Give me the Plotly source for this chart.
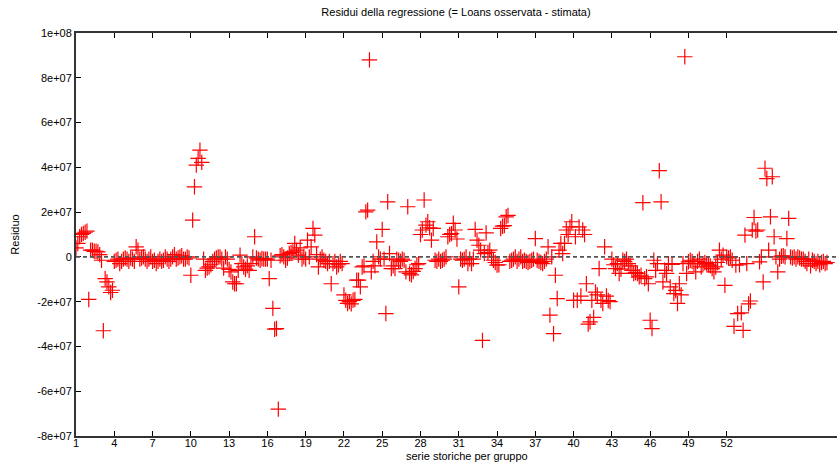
import plotly.graph_objects as go

# Panel: 59 groups x 7 observations; residuals in millions
T = 7
group_tick_labels = ["1", "4", "7", "10", "13", "16", "19", "22", "25", "28",
                     "31", "34", "37", "40", "43", "46", "49", "52"]
y_tick_vals = [1e8, 8e7, 6e7, 4e7, 2e7, 0, -2e7, -4e7, -6e7, -8e7]
y_tick_text = ["1e+08", "8e+07", "6e+07", "4e+07", "2e+07", "0",
               "-2e+07", "-4e+07", "-6e+07", "-8e+07"]

resid_g01_10 = [
    4.0, 6.0, 9.0, 10.0, 10.5, 11.0, 11.5,
    -19.0, 3.0, 3.0, 2.5, 2.5, 2.2, 1.0,
    -1.5, -33.0, -9.7, -11.2, -13.4, -15.9, -14.9,
    -2.0, -1.5, -1.0, -3.0, -2.0, -1.0, -0.5,
    -1.0, -2.0, -0.5, -1.0, -2.0, 4.5, 3.0,
    -1.0, -0.5, 0.0, -1.0, -2.0, -1.0, 0.0,
    -2.0, -1.5, -3.0, -2.0, -1.0, -2.0, -1.5,
    0.0, -1.0, -2.0, -1.0, 0.0, 1.0, -1.0,
    -0.5, 0.0, 0.5, -1.0, -1.0, 0.0, -0.5,
    -8.2, 16.4, 31.3, 41.0, 44.0, 47.7, 42.2,
]
resid_g11_20 = [
    -1.0, -6.0, -5.0, -4.5, -3.5, -2.0, -1.0,
    -0.5, 0.0, 0.0, -1.0, -5.0, 0.0, -1.0,
    -5.6, -6.7, -11.2, -12.0, -12.0, -6.0, 0.8,
    -3.0, -4.5, -5.5, -4.0, -6.0, -3.0, 0.0,
    9.0, -0.5, -1.0, -1.5, -0.7, -1.0, -1.0,
    -1.0, -9.7, -1.5, -23.0, -32.3, -32.0, -68.0,
    0.5, 1.0, 0.0, -1.5, -0.5, 1.5, 2.0,
    2.2, 6.0, 3.0, 0.8, 4.0, -1.0, 0.0,
    -1.0, 7.5, 0.0, 4.5, 12.7, 9.7, 1.0,
    -4.5, -1.0, 0.0, -1.5, -2.0, -3.0, -2.0,
]
resid_g21_30 = [
    -12.0, -3.0, -2.0, -4.5, -3.5, -2.0, -3.0,
    -17.0, -19.4, -20.8, -20.0, -21.0, -19.4, -19.0,
    -10.4, -10.4, -13.4, -4.5, -4.0, 20.1, 20.9,
    88.0, -6.7, -2.0, -4.0, 6.7, 0.0, -1.0,
    12.3, -1.0, -25.3, 24.6, 1.5, -5.2, -4.0,
    -5.2, -1.0, -1.5, -2.0, -1.0, -1.5, -6.7,
    22.4, -7.4, -8.0, -6.5, -5.2, -3.5, -3.0,
    10.0, 12.0, 25.4, 14.2, 15.7, 13.0, 7.5,
    12.7, -1.5, -2.0, -1.0, -2.0, -1.5, -1.0,
    0.0, 9.0, 10.0, 10.4, 15.0, 12.0, 8.0,
]
resid_g31_40 = [
    -13.4, -1.0, -1.5, -1.0, 0.0, -3.0, -1.0,
    -3.0, -1.0, 12.3, 7.5, 5.2, 3.0, -37.3,
    1.5, 10.7, 2.0, 3.0, 0.0, -1.5, -2.5,
    -3.7, -3.5, 12.7, 13.7, 14.0, 17.9, 18.5,
    -2.0, -1.5, -1.0, 0.0, -2.0, -1.0, 0.0,
    -2.0, -1.5, -2.0, -2.5, -2.0, -1.5, -1.0,
    8.2, -1.5, -2.0, -2.5, -3.0, -2.0, -1.0,
    4.5, -26.0, 0.0, -34.3, -8.2, -18.6, 3.0,
    6.0, 1.5, 6.0, 12.0, 10.0, 13.4, 15.7,
    -19.4, 9.0, -19.4, 13.4, -17.5, 12.0, 10.0,
]
resid_g41_50 = [
    -12.0, -30.0, -29.0, -19.4, -27.0, -15.7, -17.0,
    -5.2, -19.4, -20.8, 4.5, -17.5, -19.5, -20.0,
    -1.0, -3.5, -5.2, -3.0, -7.4, -5.5, -1.5,
    -2.0, -1.0, -3.0, -4.0, -6.0, -7.4, -7.0,
    -7.4, -8.9, -8.2, 24.2, -9.7, -8.9, -12.0,
    -28.3, -32.0, -1.5, -6.0, -3.0, 38.5, 24.6,
    -11.2, -6.0, -7.4, -3.0, -13.4, -3.3, -16.4,
    -15.0, -20.8, -12.0, -17.0, -3.0, 89.4, -7.4,
    -2.2, -1.5, -2.0, -3.0, -6.7, -2.0, -1.0,
    -4.5, -3.0, -2.5, -3.0, -3.5, -4.0, -5.2,
]
resid_g51_59 = [
    -6.7, -4.5, -2.5, 3.0, -1.0, 0.8, -12.7,
    0.0, -0.5, 0.0, -1.5, -31.0, -3.7, -25.3,
    -3.5, -25.0, -32.8, 9.7, -3.0, -21.0, -19.7,
    12.0, 17.6, 11.5, 12.0, -2.2, 0.0, -11.2,
    39.6, 35.0, 3.0, 17.9, 35.8, 9.0, 0.0,
    -6.7, -1.0, 0.3, 0.5, 0.0, 8.2, 17.2,
    0.0, -0.5, 0.0, -1.0, 0.0, -0.5, -1.0,
    -1.0, -2.0, -3.0, -1.0, -4.0, -1.5, -2.0,
    -3.0, -2.0, -3.5, -2.5, -2.0, -3.0, -2.5,
]

resid_mln = resid_g01_10 + resid_g11_20 + resid_g21_30 + resid_g31_40 + resid_g41_50 + resid_g51_59
resid = [v * 1e6 for v in resid_mln]
obs = list(range(1, len(resid) + 1))
tick_vals_x = [(int(g) - 1) * T + 1 for g in group_tick_labels]

FONT = "Liberation Sans, Arial, Helvetica, sans-serif"

fig = go.Figure()
fig.add_trace(go.Scatter(
    x=obs, y=resid, mode="markers",
    marker=dict(symbol="cross-thin", size=11, color="#ff0000",
                line=dict(width=1.2, color="#ff0000")),
    showlegend=False, hoverinfo="skip",
))

fig.add_shape(type="line", xref="paper", x0=0, x1=1, yref="y", y0=0, y1=0,
              line=dict(color="#555555", width=1.6, dash="4px,3px"), layer="above")

fig.add_annotation(text="serie storiche per gruppo", xref="paper", yref="paper",
                   x=(467 - 76) / 761, y=-(456 - 436) / 403,
                   xanchor="center", yanchor="middle", showarrow=False,
                   font=dict(size=11, color="black"))

fig.update_layout(
    width=837, height=469,
    margin=dict(l=76, r=0, t=33, b=33),
    paper_bgcolor="white", plot_bgcolor="white",
    font=dict(family=FONT, size=11, color="black"),
    title=dict(text="Residui della regressione (= Loans osservata - stimata)",
               x=456 / 837, xanchor="center", y=1 - 12 / 469, yanchor="middle",
               font=dict(size=11, color="black")),
    xaxis=dict(range=[1, 418.5], tickvals=tick_vals_x, ticktext=group_tick_labels,
               ticks="inside", ticklen=5, tickwidth=1, tickcolor="black",
               ticklabelstandoff=-4,
               showline=True, linecolor="#333333", linewidth=2, mirror="ticks",
               showgrid=False, zeroline=False),
    yaxis=dict(range=[-8e7, 1e8], tickvals=y_tick_vals, ticktext=y_tick_text,
               ticks="inside", ticklen=5, tickwidth=1, tickcolor="black",
               showline=True, linecolor="#333333", linewidth=2, mirror=False,
               showgrid=False, zeroline=False,
               title=dict(text="Residuo", font=dict(size=11))),
)

fig.write_html("out.html")
